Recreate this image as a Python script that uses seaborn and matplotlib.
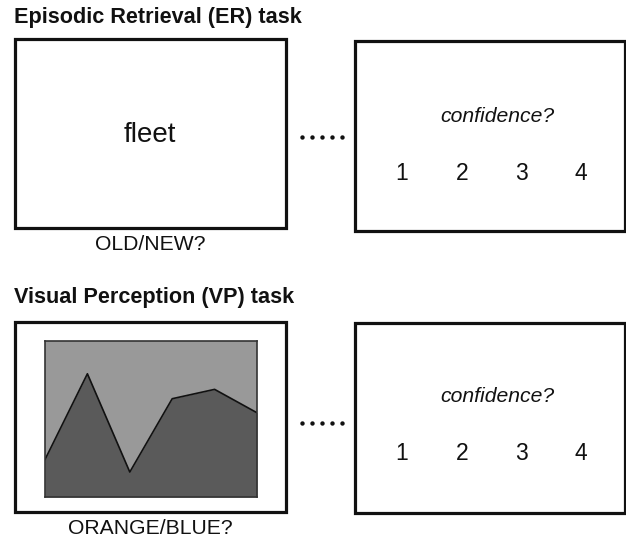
import matplotlib
matplotlib.use("Agg")
import matplotlib.pyplot as plt
from matplotlib.patches import Rectangle
import seaborn as sns

sns.set_style("white")
plt.rcParams["font.family"] = ["Liberation Sans", "DejaVu Sans"]

# --- content ---
task_titles = ["Episodic Retrieval (ER) task", "Visual Perception (VP) task"]
task_questions = ["OLD/NEW?", "ORANGE/BLUE?"]
word_stimulus = "fleet"
confidence_prompt = "confidence?"
confidence_levels = ["1", "2", "3", "4"]

# colour-boundary stimulus (relative position along panel, relative height)
ridge_x = [0.0, 0.2, 0.4, 0.6, 0.8, 1.0]
ridge_y = [0.24, 0.79, 0.16, 0.63, 0.69, 0.54]

W, H = 626, 540
fig = plt.figure(figsize=(W / 100, H / 100), dpi=100)
ax = fig.add_axes([0, 0, 1, 1])
ax.set_xlim(0, W)
ax.set_ylim(H, 0)
ax.axis("off")

box_kw = dict(fill=False, edgecolor="#111111", linewidth=2.3)

rows = [
    # title_y, left box (x0, y0, x1, y1), right box, dots_y, conf_y, num_y, label_y
    dict(title_y=18, left=(15, 39, 286, 228), right=(355, 41, 625, 231),
         dots_y=137, conf_y=117, num_y=174, label_y=245),
    dict(title_y=297, left=(15, 322, 286, 512), right=(355, 323, 625, 513),
         dots_y=423, conf_y=396, num_y=453, label_y=529),
]

num_xs = [402, 462, 521, 581]

for i, r in enumerate(rows):
    ax.text(14, r["title_y"], task_titles[i], fontsize=15.6, fontweight="bold",
            ha="left", va="center", color="#111111")
    x0, y0, x1, y1 = r["left"]
    ax.add_patch(Rectangle((x0, y0), x1 - x0, y1 - y0, **box_kw))
    ax.text((x0 + x1) / 2, r["label_y"], task_questions[i], fontsize=15.2,
            ha="center", va="center", color="#111111")
    x0, y0, x1, y1 = r["right"]
    ax.add_patch(Rectangle((x0, y0), x1 - x0, y1 - y0, **box_kw))
    ax.text(497, r["conf_y"], confidence_prompt, fontsize=15.2, style="italic",
            ha="center", va="center", color="#111111")
    for xn, lab in zip(num_xs, confidence_levels):
        ax.text(xn, r["num_y"], lab, fontsize=16.5, ha="center", va="center",
                color="#111111")
    ax.scatter([302 + 10 * k for k in range(5)], [r["dots_y"]] * 5, s=10,
               color="#111111", linewidths=0)

# word stimulus
ax.text(150, 135, word_stimulus, fontsize=20, ha="center", va="center",
        color="#111111")

# visual stimulus panel
ix0, iy0, ix1, iy1 = 45, 341, 257, 497
sax = fig.add_axes([ix0 / W, 1 - iy1 / H, (ix1 - ix0) / W, (iy1 - iy0) / H])
sax.set_facecolor("#999999")
sax.fill_between(ridge_x, 0, ridge_y, color="#5a5a5a", linewidth=0)
sns.lineplot(x=ridge_x, y=ridge_y, ax=sax, color="#111111", linewidth=1.2)
sax.set_xlim(0, 1)
sax.set_ylim(0, 1)
sax.set_xticks([])
sax.set_yticks([])
for sp in sax.spines.values():
    sp.set_visible(True)
    sp.set_color("#333333")
    sp.set_linewidth(1.2)

fig.savefig("out.png", dpi=100)
